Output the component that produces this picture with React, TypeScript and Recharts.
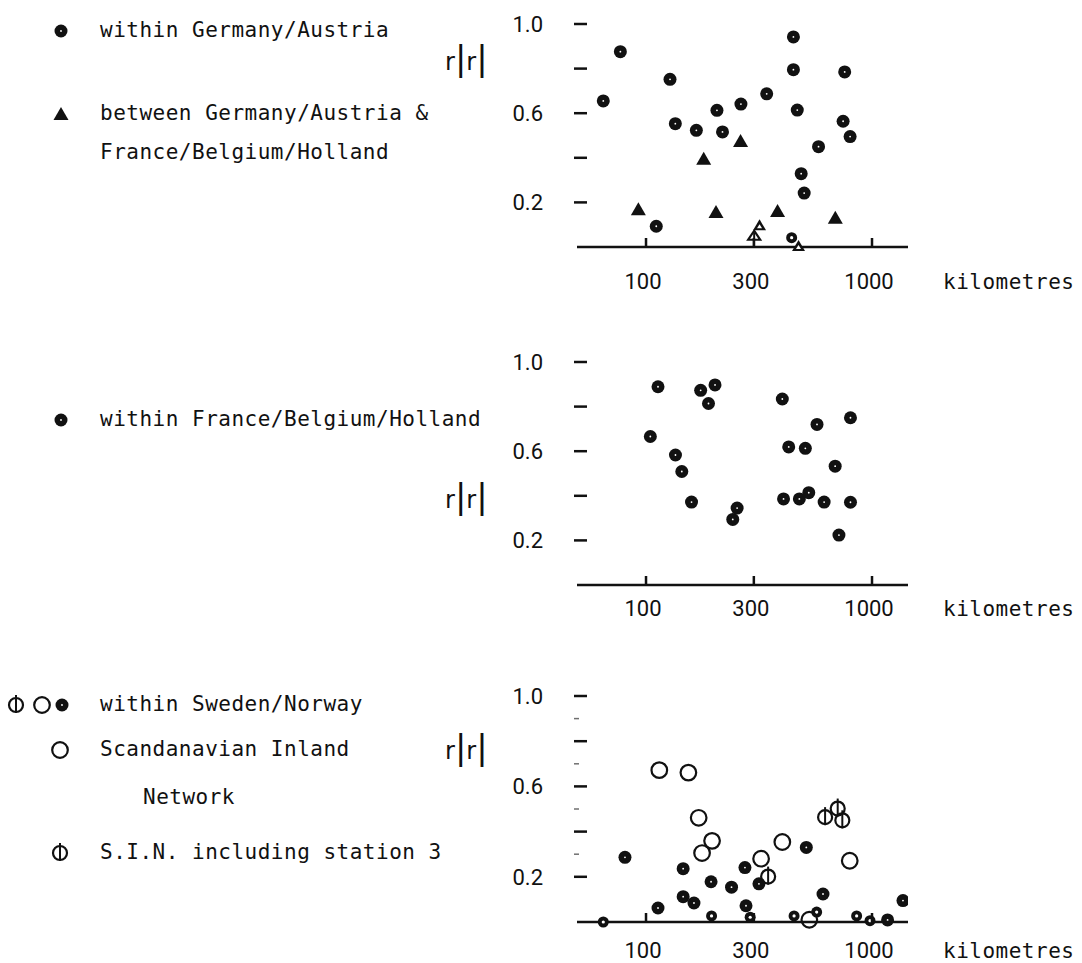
import React from 'react';
import { ScatterChart, Scatter, XAxis, YAxis } from 'recharts';

// ---------- data ----------
const xTicks = [100, 300, 1000];
const yTicks = [0.2, 0.4, 0.6, 0.8, 1.0];
const yLabelled = [0.2, 0.6, 1.0];
const yMinorTicks3 = [0.2, 0.3, 0.4, 0.5, 0.6, 0.7, 0.8, 0.9, 1.0];

// Panel 1: within Germany/Austria (filled circles)
const geDist = [64.7, 77, 127.7, 134.8, 167, 218, 206, 263, 342, 449, 449, 467, 580, 486, 501, 757, 745, 800, 111];
const geR = [0.655, 0.876, 0.752, 0.553, 0.523, 0.516, 0.613, 0.641, 0.687, 0.942, 0.795, 0.614, 0.45, 0.329, 0.242, 0.785, 0.564, 0.495, 0.093];
const geSmallDist = [441];
const geSmallR = [0.042];
// Panel 1: between Germany/Austria & France/Belgium/Holland (triangles)
const btDist = [92.5, 180, 204, 262, 382, 688];
const btR = [0.169, 0.396, 0.157, 0.475, 0.161, 0.131];
const btOpenDist = [318, 473];
const btOpenR = [0.097, 0.005];
const btArrowDist = [301];
const btArrowR = [0.046];

// Panel 2: within France/Belgium/Holland
const frDist = [113, 104.5, 135, 144, 159, 174.5, 189, 202, 242, 253, 401, 406, 428, 507, 477, 525, 571, 614, 687, 714, 803, 803];
const frR = [0.889, 0.666, 0.583, 0.509, 0.372, 0.873, 0.814, 0.897, 0.294, 0.345, 0.834, 0.386, 0.619, 0.613, 0.386, 0.414, 0.72, 0.372, 0.533, 0.224, 0.75, 0.371];

// Panel 3: within Sweden/Norway
const swDist = [80.7, 113, 146, 146, 163, 194, 239, 274, 277, 316, 512, 607, 1172, 1371];
const swR = [0.286, 0.062, 0.236, 0.112, 0.084, 0.178, 0.154, 0.241, 0.072, 0.169, 0.33, 0.124, 0.009, 0.095];
const swSmallDist = [64.7, 195, 289, 452, 569, 855, 980];
const swSmallR = [0.0, 0.027, 0.021, 0.027, 0.044, 0.027, 0.006];
// Scandanavian Inland Network (open circles)
const sinDist = [114.5, 154, 171, 177, 196, 323, 401, 797, 528];
const sinR = [0.672, 0.661, 0.461, 0.305, 0.359, 0.28, 0.354, 0.271, 0.01];
// S.I.N. including station 3
const sin3Dist = [347, 620, 705, 739];
const sin3R = [0.201, 0.464, 0.502, 0.45];

const zip = (xs: number[], ys: number[]) => xs.map((x, i) => ({ x, y: ys[i] }));

// ---------- styling ----------
const INK = '#111';
const FONT_MONO = '"DejaVu Sans Mono", monospace';
const FONT_NUM = 'Roboto, "DejaVu Sans", sans-serif';
const X_DOMAIN: [number, number] = [49.5, 1443];

// ---------- shapes ----------
const Dot = (p: any) => (
  <g>
    <circle cx={p.cx} cy={p.cy} r={6.5} fill={INK} />
    <circle cx={p.cx} cy={p.cy} r={0.9} fill="#fff" />
  </g>
);
const SmallDot = (p: any) => (
  <g>
    <circle cx={p.cx} cy={p.cy} r={5.5} fill={INK} />
    <circle cx={p.cx} cy={p.cy} r={1.6} fill="#fff" />
  </g>
);
const Tri = (p: any) => (
  <polygon points={`${p.cx},${p.cy - 7} ${p.cx - 7.5},${p.cy + 6} ${p.cx + 7.5},${p.cy + 6}`} fill={INK} />
);
const OpenTri = (p: any) => (
  <g>
    <polygon points={`${p.cx},${p.cy - 6} ${p.cx - 6.5},${p.cy + 5} ${p.cx + 6.5},${p.cy + 5}`} fill={INK} />
    <polygon points={`${p.cx},${p.cy - 1} ${p.cx - 2.5},${p.cy + 3} ${p.cx + 2.5},${p.cy + 3}`} fill="#fff" />
  </g>
);
const ArrowTri = (p: any) => (
  <g>
    <polygon points={`${p.cx},${p.cy - 6} ${p.cx - 6},${p.cy + 3} ${p.cx + 6},${p.cy + 3}`} fill="none" stroke={INK} strokeWidth={2.2} />
    <line x1={p.cx} x2={p.cx} y1={p.cy - 4} y2={p.cy + 11} stroke={INK} strokeWidth={2} />
  </g>
);
const Ring = (p: any) => (
  <circle cx={p.cx} cy={p.cy} r={7.8} fill="none" stroke={INK} strokeWidth={2.2} />
);
const Phi = (p: any) => (
  <g>
    <circle cx={p.cx} cy={p.cy} r={7} fill="none" stroke={INK} strokeWidth={2.2} />
    <line x1={p.cx} x2={p.cx} y1={p.cy - 10} y2={p.cy + 8} stroke={INK} strokeWidth={2} />
  </g>
);

// ---------- axis parts ----------
const XTick = (props: any) => {
  const { x, y, payload, labelDy } = props;
  return (
    <g>
      <line x1={x} x2={x} y1={y - 9} y2={y} stroke={INK} strokeWidth={2.5} />
      <text x={x - 3} y={y + labelDy} textAnchor="middle" fontFamily={FONT_NUM} fontSize={22} fill={INK}>
        {payload.value}
      </text>
    </g>
  );
};

const YTick = (props: any) => {
  const { x, y, payload, minor } = props;
  const v = Math.round(payload.value * 10) / 10;
  const major = Math.abs(v * 10) % 2 === 0;
  const lab = yLabelled.some((l) => Math.abs(l - v) < 1e-6);
  return (
    <g>
      {major ? (
        <line x1={x - 3} x2={x + 10} y1={y} y2={y} stroke={INK} strokeWidth={2.5} />
      ) : (
        <line x1={x - 3} x2={x + 2} y1={y} y2={y} stroke={INK} strokeWidth={1.5} opacity={minor ? 0.6 : 0} />
      )}
      {lab ? (
        <text x={x - 34} y={y + 8} textAnchor="end" fontFamily={FONT_NUM} fontSize={22} fill={INK}>
          {v.toFixed(1)}
        </text>
      ) : null}
    </g>
  );
};

const KmLabel = (props: any) => {
  const { viewBox, dy } = props;
  if (!viewBox) return null;
  return (
    <text x={viewBox.x + viewBox.width + 35} y={viewBox.y + dy} fontFamily={FONT_MONO} fontSize={21} letterSpacing={0.5} fill={INK}>
      kilometres
    </text>
  );
};

const RLabel = (props: any) => {
  const { viewBox, dy } = props;
  if (!viewBox) return null;
  return (
    <text x={445} y={viewBox.y + dy} fontFamily='"DejaVu Sans", sans-serif' fill={INK}>
      <tspan fontSize={24}>r</tspan>
      <tspan fontSize={34}>|</tspan>
      <tspan fontSize={24}>r</tspan>
      <tspan fontSize={34}>|</tspan>
    </text>
  );
};

type PanelProps = {
  top: number;
  height: number;
  plotTop: number;
  xAxisHeight: number;
  labelDy: number;
  rDy: number;
  minor?: boolean;
  children: React.ReactNode;
};

const Panel = ({ top, height, plotTop, xAxisHeight, labelDy, rDy, minor, children }: PanelProps) => (
  <div style={{ position: 'absolute', left: 0, top, width: 1082, height }}>
    <ScatterChart width={1082} height={height} margin={{ top: plotTop, right: 174, bottom: 0, left: 0 }}>
      <XAxis
        dataKey="x"
        type="number"
        scale="log"
        domain={X_DOMAIN}
        allowDataOverflow
        ticks={xTicks}
        height={xAxisHeight}
        tickSize={0}
        tickMargin={0}
        tickLine={false}
        axisLine={{ stroke: INK, strokeWidth: 2.5 }}
        tick={(p: any) => <XTick {...p} labelDy={labelDy} />}
        label={<KmLabel dy={labelDy} />}
      />
      <YAxis
        dataKey="y"
        type="number"
        domain={[0, 1]}
        ticks={minor ? yMinorTicks3 : yTicks}
        width={577}
        axisLine={false}
        tickLine={false}
        tickSize={0}
        tickMargin={0}
        interval={0}
        tick={(p: any) => <YTick {...p} minor={minor} />}
        label={<RLabel dy={rDy} />}
      />
      {children}
    </ScatterChart>
  </div>
);

// ---------- legend ----------
const legendText: React.CSSProperties = {
  position: 'absolute',
  fontFamily: FONT_MONO,
  fontSize: 21,
  letterSpacing: 0.5,
  color: INK,
  whiteSpace: 'pre',
  lineHeight: '24px',
};

const LegendRow = ({ y, x = 100, text }: { y: number; x?: number; text: string }) => (
  <div style={{ ...legendText, left: x, top: y - 13 }}>{text}</div>
);

const LegendMarks = () => (
  <svg width={120} height={963} style={{ position: 'absolute', left: 0, top: 0 }}>
    <Dot cx={61} cy={31} />
    <Tri cx={61} cy={114} />
    <Dot cx={61} cy={420} />
    <Phi cx={16} cy={705} />
    <Ring cx={42} cy={705} />
    <Dot cx={62} cy={705} />
    <Ring cx={60} cy={750} />
    <Phi cx={60} cy={853} />
  </svg>
);

export default function App() {
  return (
    <div style={{ position: 'absolute', left: 0, top: 0, width: 1082, height: 963, background: '#fff', overflow: 'hidden' }}>
      <LegendMarks />
      <LegendRow y={31} text="within Germany/Austria" />
      <LegendRow y={114} text="between Germany/Austria &" />
      <LegendRow y={153} text="France/Belgium/Holland" />
      <LegendRow y={420} text="within France/Belgium/Holland" />
      <LegendRow y={705} text="within Sweden/Norway" />
      <LegendRow y={750} text="Scandanavian Inland" />
      <LegendRow y={798} x={143} text="Network" />
      <LegendRow y={853} text="S.I.N. including station 3" />

      <Panel top={0} height={300} plotTop={24} xAxisHeight={53} labelDy={42} rDy={46}>
        <Scatter data={zip(geDist, geR)} shape={Dot} isAnimationActive={false} />
        <Scatter data={zip(geSmallDist, geSmallR)} shape={SmallDot} isAnimationActive={false} />
        <Scatter data={zip(btDist, btR)} shape={Tri} isAnimationActive={false} />
        <Scatter data={zip(btOpenDist, btOpenR)} shape={OpenTri} isAnimationActive={false} />
        <Scatter data={zip(btArrowDist, btArrowR)} shape={ArrowTri} isAnimationActive={false} />
      </Panel>

      <Panel top={330} height={308} plotTop={32} xAxisHeight={53} labelDy={31} rDy={146}>
        <Scatter data={zip(frDist, frR)} shape={Dot} isAnimationActive={false} />
      </Panel>

      <Panel top={660} height={303} plotTop={36} xAxisHeight={41} labelDy={36} rDy={63} minor>
        <Scatter data={zip(swDist, swR)} shape={Dot} isAnimationActive={false} />
        <Scatter data={zip(swSmallDist, swSmallR)} shape={SmallDot} isAnimationActive={false} />
        <Scatter data={zip(sinDist, sinR)} shape={Ring} isAnimationActive={false} />
        <Scatter data={zip(sin3Dist, sin3R)} shape={Phi} isAnimationActive={false} />
      </Panel>
    </div>
  );
}
